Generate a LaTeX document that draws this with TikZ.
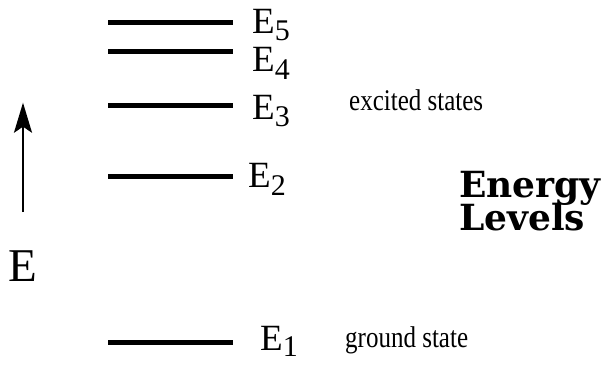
\documentclass[tikz,border=0pt]{standalone}
\usepackage{fontspec}
\setmainfont{Liberation Serif}
\newfontfamily\heavyfont{DejaVu Serif}
\usetikzlibrary{arrows.meta}
\newcommand\Elab[1]{E\raisebox{-7.5pt}{\fontsize{30}{30}\selectfont #1}}
\newcommand\tall[1]{\scalebox{1}[1.2]{#1}}
\begin{document}
\begin{tikzpicture}[x=1pt,y=-1pt,
  level/.style={line width=5pt},
  lbl/.style={anchor=base west, inner sep=0pt, font=\fontsize{37}{37}\selectfont},
  note/.style={anchor=base west, inner sep=0pt, font=\fontsize{25}{25}\selectfont},
  title/.style={anchor=base west, inner sep=0pt, align=left, font=\heavyfont\bfseries\fontsize{36}{36}\selectfont}]
\useasboundingbox (0,0) rectangle (607,364);
% energy levels
\coordinate (l5a) at (108,22.7);  \coordinate (l5b) at (233,22.7);
\coordinate (l4a) at (108,51.7);  \coordinate (l4b) at (233,51.7);
\coordinate (l3a) at (108,105);   \coordinate (l3b) at (233,105);
\coordinate (l2a) at (108,176.7); \coordinate (l2b) at (233,176.7);
\coordinate (l1a) at (108,342.7); \coordinate (l1b) at (233,342.7);
\draw[level] (l5a) -- (l5b);
\draw[level] (l4a) -- (l4b);
\draw[level] (l3a) -- (l3b);
\draw[level] (l2a) -- (l2b);
\draw[level] (l1a) -- (l1b);
% labels
\node[lbl] (e5) at (252,33.3) {\Elab{5}};
\node[lbl] (e4) at (252,71.7) {\Elab{4}};
\node[lbl] (e3) at (252,119.3) {\Elab{3}};
\node[lbl] (e2) at (248,187.7) {\Elab{2}};
\node[lbl] (e1) at (260,350) {E\raisebox{-6pt}{\fontsize{30}{30}\selectfont 1}};
\node[note] (exc) at (349,110) {\tall{excited states}};
\node[note] (gnd) at (345,347) {\tall{ground state}};
% energy axis
\coordinate (abot) at (23,212);
\coordinate (atop) at (23,102.7);
\draw[line width=2pt, -{Stealth[length=30pt, width=18pt, inset=6pt]}] (abot) -- (atop);
\node[anchor=base west, inner sep=0pt, font=\fontsize{47}{47}\selectfont] (E) at (8,281) {E};
% title
\node[title] (t1) at (459,197) {Energy};
\node[title] (t2) at (459,230) {Levels};
\end{tikzpicture}
\end{document}
